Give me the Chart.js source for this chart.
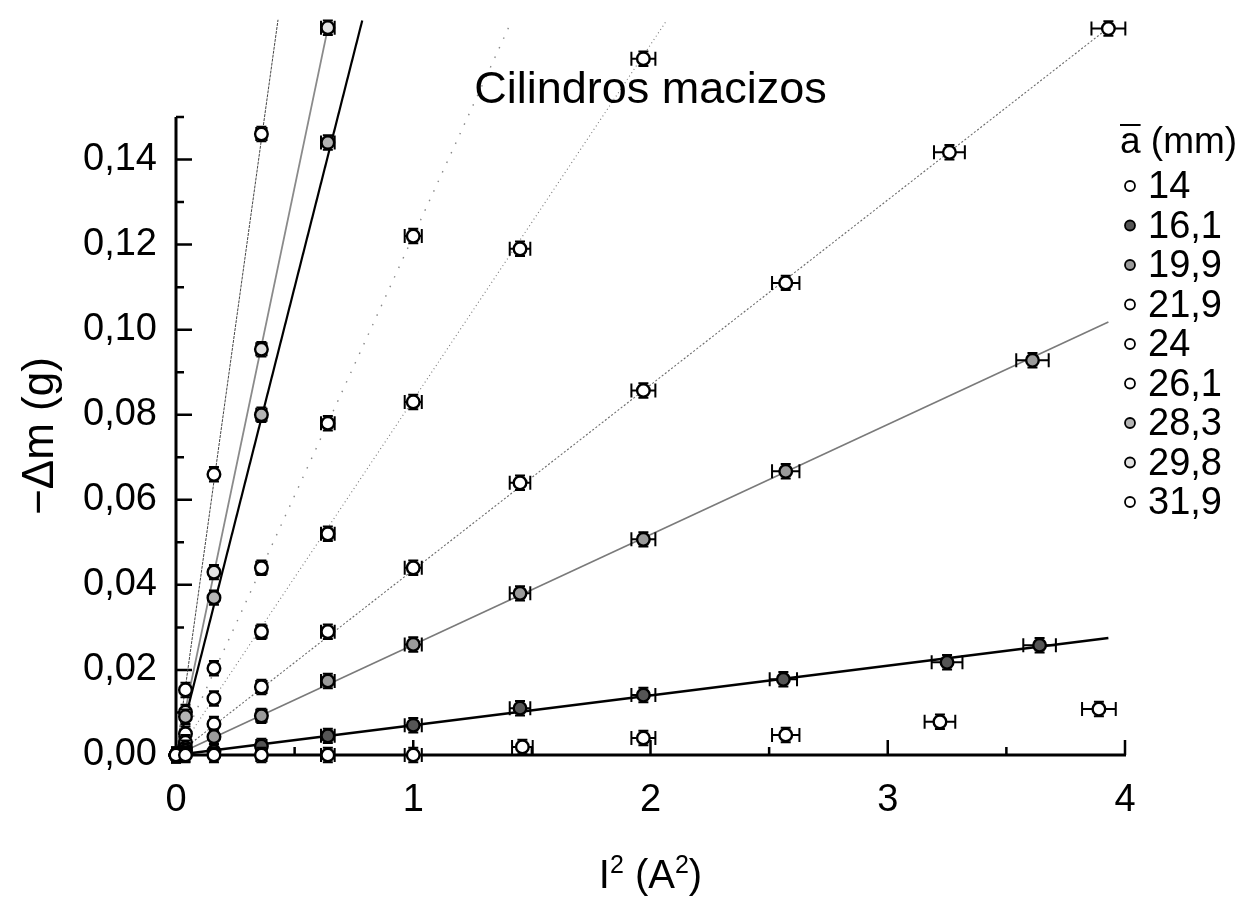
<!DOCTYPE html>
<html lang="es">
<head>
<meta charset="utf-8">
<title>Cilindros macizos</title>
<script src="https://cdn.jsdelivr.net/npm/chart.js@4.4.1/dist/chart.umd.min.js"></script>
<style>
  html, body { margin: 0; padding: 0; background: #fff; }
  #wrap { width: 1247px; height: 900px; }
</style>
</head>
<body>
<div id="wrap"><canvas id="grafico" width="1247" height="900"></canvas></div>
<script>
// Diámetro medio de cada cilindro (mm)
const diametros = ['14', '16,1', '19,9', '21,9', '24', '26,1', '28,3', '29,8', '31,9'];

// Medidas: I² (A²) y -Δm (g) para cada cilindro
const x14  = [0, 0.04, 0.16, 0.36, 0.64, 1.0, 1.46, 1.97, 2.57, 3.22, 3.89];
const y14  = [0, 0, 0, 0, 0, 0, 0.0019, 0.0040, 0.0047, 0.0078, 0.0108];
const x161 = [0, 0.04, 0.16, 0.36, 0.64, 1.0, 1.45, 1.97, 2.56, 3.25, 3.64];
const y161 = [0, 0.0002, 0.0008, 0.0021, 0.0045, 0.0070, 0.0110, 0.0141, 0.0178, 0.0218, 0.0258];
const x199 = [0, 0.04, 0.16, 0.36, 0.64, 1.0, 1.45, 1.97, 2.57, 3.61];
const y199 = [0, 0.0010, 0.0043, 0.0092, 0.0174, 0.0260, 0.0380, 0.0507, 0.0667, 0.0928];
const x219 = [0, 0.04, 0.16, 0.36, 0.64, 1.0, 1.45, 1.97, 2.57, 3.26, 3.93];
const y219 = [0, 0.0017, 0.0073, 0.0160, 0.0290, 0.0440, 0.0640, 0.0857, 0.1110, 0.1417, 0.1708];
const x24  = [0, 0.04, 0.16, 0.36, 0.64, 1.0, 1.45, 1.97];
const y24  = [0, 0.0030, 0.0133, 0.0290, 0.0520, 0.0830, 0.1190, 0.1637];
const x261 = [0, 0.04, 0.16, 0.36, 0.64, 1.0];
const y261 = [0, 0.0050, 0.0204, 0.0440, 0.0780, 0.1220];
const x283 = [0, 0.04, 0.16, 0.36, 0.64];
const y283 = [0, 0.0090, 0.0370, 0.0800, 0.1440];
const x298 = [0, 0.04, 0.16, 0.36, 0.64];
const y298 = [0, 0.0101, 0.0430, 0.0954, 0.1710];
const x319 = [0, 0.04, 0.16, 0.36];
const y319 = [0, 0.0153, 0.0660, 0.1460];

// Ajustes lineales por el origen: pendiente (g/A²) y hasta dónde se trazan
const pendientes = [null, 0.0070, 0.0259, 0.0435, 0.0835, 0.122, 0.22, 0.267, 0.402];
const finRecta   = [null, 3.93, 3.93, 3.93, 2.07, 1.41, 0.785, 0.64, 0.43];

// Incertidumbres: corriente (A) y masa (g)
const dI = 0.018;
const dm = 0.0017;

// Marcas de los ejes
const xTicks = [0, 1, 2, 3, 4];
const xMenores = [0.5, 1.5, 2.5, 3.5];
const yTicks = [0, 0.02, 0.04, 0.06, 0.08, 0.10, 0.12, 0.14];
const yMenores = [0.01, 0.03, 0.05, 0.07, 0.09, 0.11, 0.13, 0.15];

const xs = [x14, x161, x199, x219, x24, x261, x283, x298, x319];
const ys = [y14, y161, y199, y219, y24, y261, y283, y298, y319];

// Estilo de cada serie
const rellenos = ['#ffffff', '#555555', '#9a9a9a', '#ffffff', '#ffffff', '#ffffff', '#b4b4b4', '#e2e2e2', '#ffffff'];
const rectas = [
  null,
  { color: '#000000', width: 2.6, dash: [] },
  { color: '#7a7a7a', width: 1.6, dash: [] },
  { color: '#6a6a6a', width: 1.1, dash: [2, 2] },
  { color: '#777777', width: 1.1, dash: [1, 3] },
  { color: '#888888', width: 1.4, dash: [1.5, 9] },
  { color: '#000000', width: 2.2, dash: [] },
  { color: '#8a8a8a', width: 1.8, dash: [] },
  { color: '#444444', width: 1.0, dash: [3, 1] }
];

const FUENTE = "'Liberation Sans', Arial, Helvetica, sans-serif";
const coma = v => v.toFixed(2).replace('.', ',');

const datasets = [];
diametros.forEach((d, i) => {
  if (pendientes[i] !== null) {
    const r = rectas[i];
    datasets.push({
      type: 'line',
      label: 'ajuste ' + d,
      data: [{ x: 0, y: 0 }, { x: finRecta[i], y: pendientes[i] * finRecta[i] }],
      borderColor: r.color,
      borderWidth: r.width,
      borderDash: r.dash,
      pointRadius: 0,
      clip: false,
      order: 2
    });
  }
  datasets.push({
    type: 'scatter',
    label: d,
    data: xs[i].map((x, k) => ({ x: x, y: ys[i][k] })),
    backgroundColor: rellenos[i],
    borderColor: '#000000',
    pointRadius: 6.3,
    pointBorderWidth: 2.4,
    clip: false,
    errores: true,
    order: 1
  });
});

// Barras de error en I² y en Δm, debajo de cada punto; los puntos que
// quedan por encima de 0,15 se dibujan aparte porque Chart.js los omite
const barrasError = {
  id: 'barrasError',
  beforeDatasetDraw(chart, args) {
    const ds = chart.data.datasets[args.index];
    if (!ds.errores) return;
    const { ctx, scales: { x, y } } = chart;
    ctx.save();
    ctx.strokeStyle = '#000';
    ctx.lineWidth = 2;
    ds.data.forEach(p => {
      const ex = 2 * Math.sqrt(p.x) * dI;
      const px = x.getPixelForValue(p.x), py = y.getPixelForValue(p.y);
      const xa = x.getPixelForValue(p.x - ex), xb = x.getPixelForValue(p.x + ex);
      const ya = y.getPixelForValue(p.y - dm), yb = y.getPixelForValue(p.y + dm);
      ctx.beginPath();
      ctx.moveTo(xa, py); ctx.lineTo(xb, py);
      ctx.moveTo(xa, py - 7); ctx.lineTo(xa, py + 7);
      ctx.moveTo(xb, py - 7); ctx.lineTo(xb, py + 7);
      ctx.moveTo(px, ya); ctx.lineTo(px, yb);
      ctx.moveTo(px - 5, ya); ctx.lineTo(px + 5, ya);
      ctx.moveTo(px - 5, yb); ctx.lineTo(px + 5, yb);
      ctx.stroke();
    });
    ctx.restore();
  },
  afterDatasetDraw(chart, args) {
    const ds = chart.data.datasets[args.index];
    if (!ds.errores) return;
    const top = chart.chartArea.top;
    args.meta.data.forEach(el => {
      if (el.y < top) el.draw(chart.ctx);
    });
  }
};

// Ejes con marcas hacia dentro
const ejes = {
  id: 'ejes',
  beforeDatasetsDraw(chart) {
    const { ctx, scales: { x, y } } = chart;
    const x0 = x.getPixelForValue(0), x4 = x.getPixelForValue(4);
    const y0 = y.getPixelForValue(0), yTop = y.getPixelForValue(0.15);
    ctx.save();
    ctx.strokeStyle = '#000';
    ctx.lineWidth = 3;
    ctx.beginPath();
    ctx.moveTo(x0, yTop); ctx.lineTo(x0, y0); ctx.lineTo(x4 + 1, y0);
    ctx.stroke();
    ctx.lineWidth = 2.5;
    ctx.beginPath();
    yTicks.forEach(v => { const p = y.getPixelForValue(v); ctx.moveTo(x0, p); ctx.lineTo(x0 + 16, p); });
    yMenores.forEach(v => { const p = y.getPixelForValue(v); ctx.moveTo(x0, p); ctx.lineTo(x0 + 8, p); });
    xTicks.slice(1).forEach(v => { const p = x.getPixelForValue(v); ctx.moveTo(p, y0); ctx.lineTo(p, y0 - 15); });
    xMenores.forEach(v => { const p = x.getPixelForValue(v); ctx.moveTo(p, y0); ctx.lineTo(p, y0 - 8); });
    ctx.stroke();
    ctx.restore();
  }
};

// Texto con superíndices: [texto, esSuperíndice]
function textoCompuesto(ctx, partes, cx, base, size) {
  const sup = Math.round(size * 0.62);
  let total = 0;
  partes.forEach(([t, s]) => {
    ctx.font = (s ? sup : size) + 'px ' + FUENTE;
    total += ctx.measureText(t).width;
  });
  let xx = cx - total / 2;
  ctx.textAlign = 'left';
  ctx.textBaseline = 'alphabetic';
  partes.forEach(([t, s]) => {
    ctx.font = (s ? sup : size) + 'px ' + FUENTE;
    ctx.fillText(t, xx, s ? base - size * 0.38 : base);
    xx += ctx.measureText(t).width;
  });
}

// Título, rótulo del eje x y leyenda de diámetros
const rotulos = {
  id: 'rotulos',
  afterDraw(chart) {
    const { ctx, chartArea } = chart;
    const cx = (chartArea.left + chartArea.right) / 2;
    ctx.save();
    ctx.fillStyle = '#000';
    ctx.font = '45px ' + FUENTE;
    ctx.textAlign = 'center';
    ctx.textBaseline = 'alphabetic';
    ctx.fillText('Cilindros macizos', cx, 103);

    textoCompuesto(ctx, [['I', false], ['2', true], [' (A', false], ['2', true], [')', false]], cx, 888, 40);

    const lx = 1130, tx = 1148;
    ctx.font = '37px ' + FUENTE;
    ctx.textAlign = 'left';
    ctx.fillText('a', 1120, 153);
    const aw = ctx.measureText('a').width;
    ctx.fillText(' (mm)', 1120 + aw, 153);
    ctx.strokeStyle = '#000';
    ctx.lineWidth = 2;
    ctx.beginPath();
    ctx.moveTo(1120, 125); ctx.lineTo(1120 + aw, 125);
    ctx.stroke();

    ctx.font = '38px ' + FUENTE;
    ctx.textBaseline = 'middle';
    diametros.forEach((d, i) => {
      const yy = 186 + i * 39.5;
      ctx.beginPath();
      ctx.arc(lx, yy, 5, 0, Math.PI * 2);
      ctx.fillStyle = rellenos[i];
      ctx.fill();
      ctx.lineWidth = 1.8;
      ctx.stroke();
      ctx.fillStyle = '#000';
      ctx.fillText(d, tx, yy + 2);
    });
    ctx.restore();
  }
};

new Chart(document.getElementById('grafico'), {
  type: 'scatter',
  data: { datasets: datasets },
  options: {
    responsive: false,
    animation: false,
    events: [],
    layout: { padding: { top: 117, right: 122, left: 0, bottom: 0 } },
    plugins: {
      legend: { display: false },
      title: { display: false },
      tooltip: { enabled: false }
    },
    scales: {
      x: {
        type: 'linear',
        min: 0,
        max: 4,
        afterFit: s => { s.height = 145; },
        afterBuildTicks: s => { s.ticks = xTicks.map(v => ({ value: v })); },
        grid: { display: false, drawTicks: false },
        border: { display: false },
        ticks: {
          autoSkip: false,
          maxRotation: 0,
          padding: 23,
          color: '#000',
          font: { family: FUENTE, size: 38 },
          callback: v => String(Math.round(v))
        },
        title: { display: false }
      },
      y: {
        type: 'linear',
        min: 0,
        max: 0.15,
        afterFit: s => { s.width = 176; },
        afterBuildTicks: s => { s.ticks = yTicks.map(v => ({ value: v })); },
        grid: { display: false, drawTicks: false },
        border: { display: false },
        ticks: {
          autoSkip: false,
          padding: 19,
          color: '#000',
          font: { family: FUENTE, size: 38 },
          callback: v => coma(v)
        },
        title: {
          display: true,
          text: '−Δm (g)',
          color: '#000',
          font: { family: FUENTE, size: 44 },
          padding: { top: 14, bottom: 0 }
        }
      }
    }
  },
  plugins: [ejes, barrasError, rotulos]
});
</script>
</body>
</html>
